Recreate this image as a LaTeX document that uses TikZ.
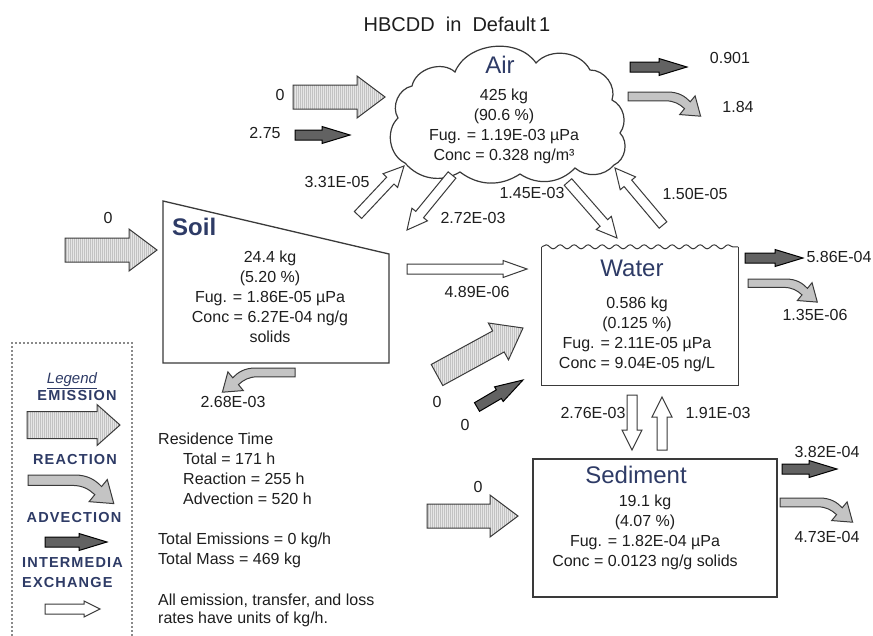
\documentclass[tikz,border=0pt]{standalone}
\usepackage{fontspec}
\setmainfont{Liberation Sans}
\usepackage{xcolor}
\definecolor{cLine}{HTML}{3A3A3A}
\definecolor{cText}{HTML}{1E1E1E}
\definecolor{cName}{HTML}{2E3B66}
\definecolor{cEmis}{HTML}{E6E6E6}
\definecolor{cEmisLn}{HTML}{C2C2C2}
\definecolor{cReact}{HTML}{C4C4C4}
\definecolor{cAdv}{HTML}{626262}
\definecolor{cDots}{HTML}{8A8A8A}
\usepackage{tikz}
\usetikzlibrary{positioning, calc, patterns.meta, decorations.pathmorphing}

% block arrow: style, tail, tip, shaft half width, head half width, head length
\newcommand{\blockarr}[6]{%
  \coordinate (ba-h) at ($(#3)!#6pt!(#2)$);
  \draw[#1] ($(#2)!#4pt!90:(#3)$) -- ($(ba-h)!#4pt!90:(#3)$)
    -- ($(ba-h)!#5pt!90:(#3)$) -- (#3)
    -- ($(ba-h)!#5pt!-90:(#3)$) -- ($(ba-h)!#4pt!-90:(#3)$)
    -- ($(#2)!#4pt!-90:(#3)$) -- cycle;
}

\begin{document}
\begin{tikzpicture}[x=1pt, y=-1pt,
    every node/.style={text=cText, inner sep=0pt, font=\fontsize{16}{20}\selectfont},
    comptitle/.style={text=cName, font=\fontsize{24}{26}\selectfont},
    comptext/.style={align=center},
    legtext/.style={text=cName, font=\fontsize{14.5}{16}\selectfont\bfseries\addfontfeature{LetterSpace=8}},
    box/.style={draw=cLine, line width=1.3pt},
    emis/.style={draw=cLine, line width=1pt, preaction={fill=cEmis},
                 pattern={Lines[angle=90, distance=2pt, line width=0.5pt]}, pattern color=cEmisLn},
    adv/.style={draw=black, line width=1pt, fill=cAdv},
    inter/.style={draw=cLine, line width=1pt, fill=white},
    react/.style={draw=cLine, line width=1pt, fill=cReact},
    pics/reactarr/.style={code={
      \draw[react] (0,0) -- (36,0) .. controls (46,0) and (52,4) .. (56.6,8.9)
        -- (61,3.5) -- (66,22) -- (47,20.5) -- (51.4,15.1)
        .. controls (47,11) and (42,8) .. (34,8) -- (0,8) -- cycle;
    }}
]
\useasboundingbox[fill=white] (0,0) rectangle (873,635);

\node[font=\fontsize{20}{22}\selectfont] (title) at (457,24) {HBCDD\ \ in\ \ Default\,1};

% compartments
\draw[draw=cLine, line width=1.2pt]
  (405,163) to[bend left=55] (398,118) to[bend left=55] (412,86)
  to[bend left=60] (455,72) to[bend left=62] (536,63) to[bend left=55] (590,70)
  to[bend left=55] (612,100) to[bend left=50] (620,133) to[bend left=55] (614,165)
  to[bend left=45] (575,168) to[bend left=40] (520,174) to[bend left=35] (460,172)
  to[bend left=40] cycle;
\coordinate (air) at (510,111);
\node[comptitle] (airname) at (500,65) {Air};
\node[comptext] (airtxt) at (504,126.5) {425 kg\\(90.6~\%)\\Fug. = 1.19E-03 µPa\\Conc = 0.328 ng/m³};

\coordinate (soilNW) at (163,201);
\coordinate (soilNE) at (389,254);
\coordinate (soilSE) at (389,363);
\coordinate (soilSW) at (163,363);
\draw[box] (soilNW) -- (soilNE) -- (soilSE) -- (soilSW) -- cycle;
\node[comptitle, font=\fontsize{24}{26}\selectfont\bfseries, anchor=west] (soilname) at (172,227) {Soil};
\node[comptext] (soiltxt) at (270,296.5) {24.4 kg\\(5.20~\%)\\Fug. = 1.86E-05 µPa\\Conc = 6.27E-04 ng/g\\solids};

\node[minimum width=196pt, minimum height=138pt] (water) at (640,316) {};
\draw[box] (water.north west) -- (water.south west) -- (water.south east) -- (water.north east);
\draw[box, line width=1pt, decorate, decoration={snake, amplitude=2pt, segment length=14pt}]
  (water.north west) -- (water.north east);
\node[comptitle] (watername) at (632,268) {Water};
\node[comptext] (watertxt) at (637,334.5) {0.586 kg\\(0.125~\%)\\Fug. = 2.11E-05 µPa\\Conc = 9.04E-05 ng/L};

\node[box, minimum width=244pt, minimum height=138pt] (sed) at (655,528) {};
\node[comptitle] (sedname) at (636,475) {Sediment};
\node[comptext] (sedtxt) at (645,532) {19.1 kg\\(4.07~\%)\\Fug. = 1.82E-04 µPa\\Conc = 0.0123 ng/g solids};

% arrow ends
\coordinate (emAirT) at (293,97);   \coordinate (emAirH) at (385,97);
\coordinate (emSoilT) at (65,250);  \coordinate (emSoilH) at (157,250);
\coordinate (emWatT) at (437,375);  \coordinate (emWatH) at (523,328);
\coordinate (emSedT) at (427,516);  \coordinate (emSedH) at (518,516);
\coordinate (adAirT) at (295,135);  \coordinate (adAirH) at (350,135);
\coordinate (adAirOT) at (630,67);  \coordinate (adAirOH) at (687,67);
\coordinate (adWatT) at (477,407);  \coordinate (adWatH) at (523,380);
\coordinate (adWatOT) at (745,258); \coordinate (adWatOH) at (803,258);
\coordinate (adSedOT) at (782,469); \coordinate (adSedOH) at (837,469);
\coordinate (soilAirT) at (358,215); \coordinate (soilAirH) at (404,166);
\coordinate (airSoilT) at (452,175); \coordinate (airSoilH) at (407,230);
\coordinate (airWatT) at (568,182);  \coordinate (airWatH) at (617,238);
\coordinate (watAirT) at (663,225);  \coordinate (watAirH) at (615,168);
\coordinate (watSedT) at (632,395);  \coordinate (watSedH) at (632,450);
\coordinate (sedWatT) at (662,450);  \coordinate (sedWatH) at (662,397);
\coordinate (soilWatT) at (407,269); \coordinate (soilWatH) at (527,269);

\foreach \t/\h in {emAirT/emAirH, emSoilT/emSoilH, emWatT/emWatH, emSedT/emSedH}
  \blockarr{emis}{\t}{\h}{12}{21}{28};
\foreach \t/\h in {adAirT/adAirH, adAirOT/adAirOH, adWatT/adWatH, adWatOT/adWatOH, adSedOT/adSedOH}
  \blockarr{adv}{\t}{\h}{5}{8.5}{28};
\foreach \t/\h in {soilAirT/soilAirH, airSoilT/airSoilH, airWatT/airWatH, watAirT/watAirH, watSedT/watSedH, sedWatT/sedWatH}
  \blockarr{inter}{\t}{\h}{5}{10}{20};
\blockarr{inter}{soilWatT}{soilWatH}{5}{8.5}{24};

\pic[scale=1.1] (reactAir) at (628,92) {reactarr};
\pic[xscale=-1.1, yscale=1.1] (reactSoil) at (295,368) {reactarr};
\pic[scale=1.05] (reactWat) at (748,279) {reactarr};
\pic[scale=1.1] (reactSed) at (780,498) {reactarr};

% flow values
\node (vEmAir) at (280,95) {0};
\node (vAdAir) at (265,133) {2.75};
\node (vAdAirO) at (730,58) {0.901};
\node (vReAir) at (738,107) {1.84};
\node (vSoilAir) at (337,182) {3.31E-05};
\node (vAirSoil) at (473,218) {2.72E-03};
\node (vAirWat) at (532,193) {1.45E-03};
\node (vWatAir) at (695,194) {1.50E-05};
\node (vEmSoil) at (108,218) {0};
\node (vSoilWat) at (477,292) {4.89E-06};
\node (vReSoil) at (233,402) {2.68E-03};
\node (vAdWatO) at (839,257) {5.86E-04};
\node (vReWat) at (815,315) {1.35E-06};
\node (vEmWat) at (437,402) {0};
\node (vAdWat) at (465,425) {0};
\node (vWatSed) at (593,413) {2.76E-03};
\node (vSedWat) at (718,413) {1.91E-03};
\node (vEmSed) at (478,487) {0};
\node (vAdSedO) at (827,452) {3.82E-04};
\node (vReSed) at (827,537) {4.73E-04};

% summary
\node[anchor=north west, align=left] (restime) at (158,433)
  {Residence Time\\\hspace*{25pt}Total = 171 h\\\hspace*{25pt}Reaction = 255 h\\\hspace*{25pt}Advection = 520 h};
\node[anchor=north west, align=left] (totals) at (158,533) {Total Emissions = 0 kg/h\\Total Mass = 469 kg};
\node[anchor=north west, align=left, font=\fontsize{16}{18}\selectfont] (units) at (158,594)
  {All emission, transfer, and loss\\rates have units of kg/h.};

% legend
\draw[cDots, line width=2.2pt, dash pattern=on 2pt off 2pt] (12,640) -- (12,343) -- (132,343) -- (132,640);
\node[text=cName, font=\fontsize{15}{16}\selectfont\itshape] (legtitle) at (72,381) {\underline{Legend}};
\node[legtext] (legemis) at (77,396) {EMISSION};
\node[legtext] (legreact) at (75,460) {REACTION};
\node[legtext] (legadv) at (74,518) {ADVECTION};
\node[legtext, anchor=west] (leginter) at (22,563) {INTERMEDIA};
\node[legtext, anchor=west] (legexch) at (22,582) {EXCHANGE};
\coordinate (legEmT) at (27,425);  \coordinate (legEmH) at (120,425);
\coordinate (legAdT) at (45,542);  \coordinate (legAdH) at (107,542);
\coordinate (legInT) at (45,609);  \coordinate (legInH) at (100,609);
\blockarr{emis}{legEmT}{legEmH}{13.5}{20.5}{23};
\pic[scale=1.3] (legReact) at (28,475) {reactarr};
\blockarr{adv}{legAdT}{legAdH}{5}{8.5}{28};
\blockarr{inter}{legInT}{legInH}{5}{8}{16};
\end{tikzpicture}
\end{document}
